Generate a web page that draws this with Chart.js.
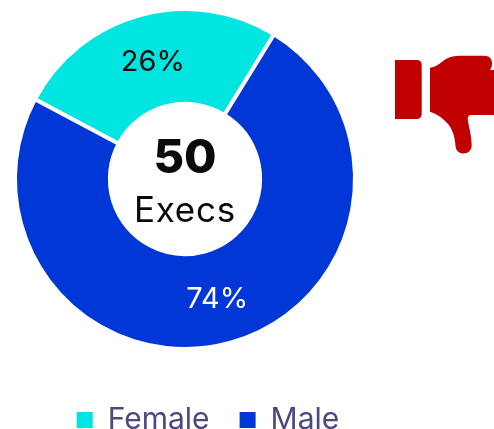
<!DOCTYPE html>
<html><head><meta charset="utf-8">
<style>html,body{margin:0;padding:0;background:#fff;overflow:hidden}
#w{position:relative;width:494px;height:429px}
canvas{position:absolute;left:0;top:0}
svg{position:absolute;left:0;top:0}</style>
<script src="https://cdn.jsdelivr.net/npm/chart.js@4"></script>
</head><body><div id="w"><canvas id="c" width="494" height="429"></canvas>
<svg width="494" height="429" viewBox="0 0 494 429"><g fill="#c00000">
<path d="M395 60H416.5Q421.7 60 421.7 65V114Q421.7 119 416.5 119H395Z"/>
<path d="M430 67.7C437 67 441 62 446 59C450 56.5 455 55.7 460 55.7H484C489 55.7 492 58.5 492 63C492 66 491.5 68 490 70H494V115H471C468.5 115 467.3 117 467.8 120C469 128 471.7 136 471.7 145C471.7 150.5 468 153.5 463.5 153.5C459 153.5 455.7 150.5 455.5 146C455 138 453 130 448 124C443 118 437 114 430 111.7Z"/>
</g></svg></div>
<script>
const categories=['Female','Male'];
const shares=[26,74];
const sliceColors=['#00E5E0','#0037D6'];
const labelColors=['#0a0a0a','#ffffff'];
const centerTop='50', centerBottom='Execs';
const FONT='Inter, sans-serif';
const sliceLabels={id:'sliceLabels',afterDatasetsDraw(ch){
  const c=ch.ctx,m=ch.getDatasetMeta(0);
  c.save();c.textAlign='center';c.textBaseline='middle';c.font='29px '+FONT;
  m.data.forEach((a,i)=>{const p=a.tooltipPosition();c.fillStyle=labelColors[i];c.fillText(shares[i]+'%',p.x,p.y+2);});
  const a=m.data[0];
  c.fillStyle='#0a0a0a';c.font='800 47px '+FONT;c.fillText(centerTop,a.x,a.y-20);
  c.font='35px '+FONT;c.letterSpacing='0.8px';c.fillText(centerBottom,a.x,a.y+32);
  c.restore();
}};
const legendShift={id:'legendShift',afterLayout(ch){const l=ch.legend;l.left+=23;l.right+=23;l.top+=24;l.bottom+=24;}};
new Chart(document.getElementById('c'),{
  type:'doughnut',
  data:{labels:categories,datasets:[{data:shares,backgroundColor:sliceColors,borderColor:'#fff',borderWidth:4,hoverOffset:0}]},
  options:{responsive:false,animation:false,rotation:-62,cutout:'44.2%',
    layout:{padding:{top:7,left:0,right:124,bottom:8}},
    plugins:{tooltip:{enabled:false},
      legend:{position:'bottom',labels:{boxWidth:16,boxHeight:16,padding:30,color:'#4A4A80',font:{family:FONT,size:30},
        generateLabels(ch){return categories.map((t,i)=>({text:t,fillStyle:sliceColors[i],strokeStyle:sliceColors[i],lineWidth:0,fontColor:'#4A4A80',index:i}));}}}}},
  plugins:[sliceLabels,legendShift]
});
</script></body></html>
